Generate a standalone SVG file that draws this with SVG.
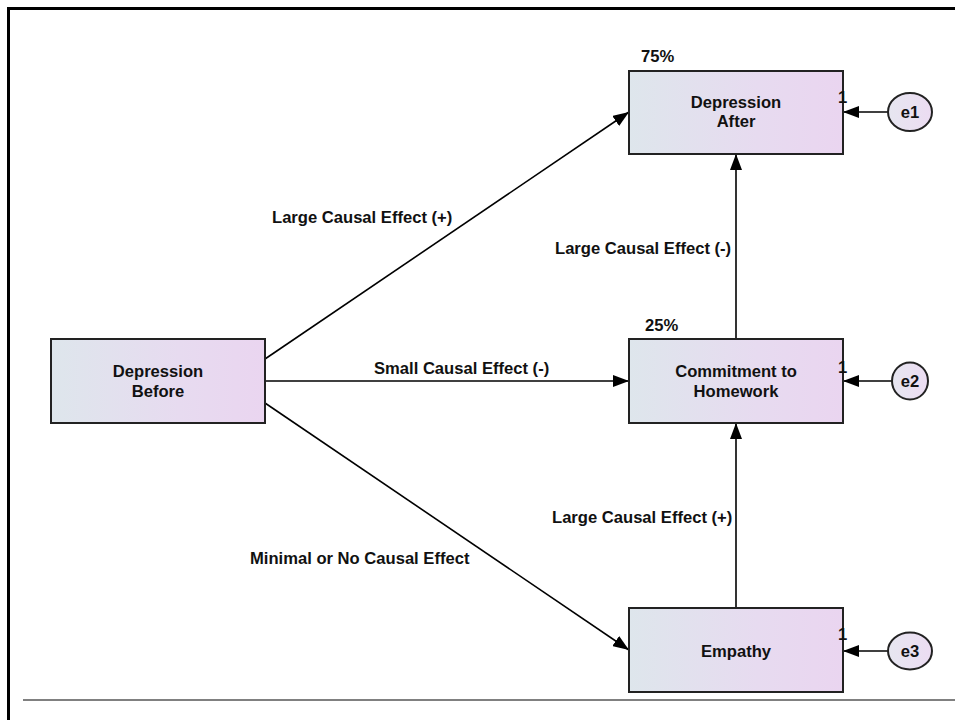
<svg xmlns="http://www.w3.org/2000/svg" width="955" height="720" viewBox="0 0 955 720">
<defs>
<linearGradient id="boxg" x1="0" y1="0" x2="1" y2="0">
<stop offset="0" stop-color="#dee6ec"/>
<stop offset="0.6" stop-color="#e7dbf0"/>
<stop offset="1" stop-color="#ead5f0"/>
</linearGradient>
<linearGradient id="ellg" x1="0" y1="0" x2="1" y2="0">
<stop offset="0" stop-color="#e6e6f0"/>
<stop offset="1" stop-color="#ecdcf2"/>
</linearGradient>
<marker id="arr" viewBox="0 0 16 12" refX="16" refY="6" markerWidth="16" markerHeight="12" markerUnits="userSpaceOnUse" orient="auto">
<path d="M0,0 L16,6 L0,12 Z" fill="#000"/>
</marker>
<style>
.box{fill:url(#boxg);stroke:#222;stroke-width:2}
.ell{fill:url(#ellg);stroke:#222;stroke-width:2}
.t{font-family:"Liberation Sans",Arial,sans-serif;font-weight:bold;font-size:16.6px;fill:#111}
.c{text-anchor:middle}
.ln{stroke:#000;stroke-width:1.6;fill:none;marker-end:url(#arr)}
</style>
</defs>
<rect x="0" y="0" width="955" height="720" fill="#fff"/>
<rect x="8.5" y="8.5" width="960" height="730" fill="none" stroke="#000" stroke-width="3"/>
<line x1="23" y1="700" x2="955" y2="700" stroke="#808080" stroke-width="2"/>

<g id="connectors">
<line class="ln" x1="265" y1="359" x2="629" y2="112"/>
<line class="ln" x1="265" y1="381" x2="629" y2="381"/>
<line class="ln" x1="265" y1="403" x2="629" y2="650"/>
<line class="ln" x1="736" y1="608" x2="736" y2="423"/>
<line class="ln" x1="736" y1="339" x2="736" y2="154"/>
<line class="ln" x1="888" y1="112" x2="843" y2="112"/>
<line class="ln" x1="892" y1="381" x2="843" y2="381"/>
<line class="ln" x1="888" y1="651" x2="843" y2="651"/>
<text class="t" x="272" y="223">Large Causal Effect (+)</text>
<text class="t" x="555" y="254">Large Causal Effect (-)</text>
<text class="t" x="374" y="374">Small Causal Effect (-)</text>
<text class="t" x="552" y="523">Large Causal Effect (+)</text>
<text class="t" x="250" y="564">Minimal or No Causal Effect</text>
</g>

<g id="depression-before">
<rect class="box" x="51" y="339" width="214" height="84"/>
<text class="t c" x="158" y="377">Depression</text>
<text class="t c" x="158" y="397">Before</text>
</g>

<g id="depression-after">
<rect class="box" x="629" y="71" width="214" height="83"/>
<text class="t c" x="736" y="108">Depression</text>
<text class="t c" x="736" y="127">After</text>
<text class="t" x="641" y="62">75%</text>
<text class="t" x="838" y="103">1</text>
</g>

<g id="commitment">
<rect class="box" x="629" y="339" width="214" height="84"/>
<text class="t c" x="736" y="377">Commitment to</text>
<text class="t c" x="736" y="397">Homework</text>
<text class="t" x="645" y="331">25%</text>
<text class="t" x="838" y="373">1</text>
</g>

<g id="empathy">
<rect class="box" x="629" y="608" width="214" height="84"/>
<text class="t c" x="736" y="657">Empathy</text>
<text class="t" x="838" y="640">1</text>
</g>

<g id="e1">
<ellipse class="ell" cx="910" cy="112" rx="22" ry="19"/>
<text class="t c" x="910" y="118">e1</text>
</g>
<g id="e2">
<ellipse class="ell" cx="910" cy="381" rx="18" ry="18.5"/>
<text class="t c" x="910" y="387">e2</text>
</g>
<g id="e3">
<ellipse class="ell" cx="910" cy="651" rx="22" ry="18.5"/>
<text class="t c" x="910" y="657">e3</text>
</g>
</svg>
